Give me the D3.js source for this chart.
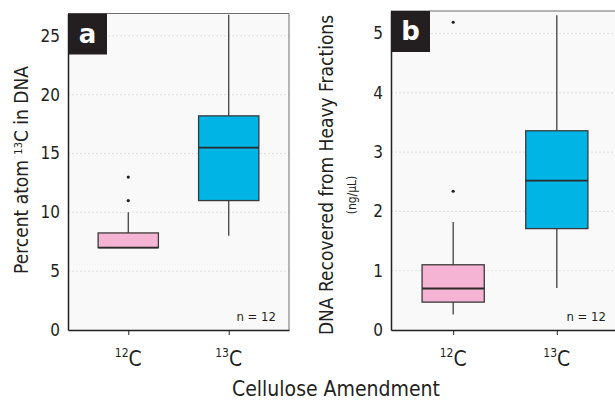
<!DOCTYPE html>
<html>
<head>
<meta charset="utf-8">
<script src="https://cdn.jsdelivr.net/npm/d3@7"></script>
<style>
  body { margin: 0; background: #fff; }
  text { font-family: "Liberation Sans Narrow", "DejaVu Sans Condensed", "Roboto", sans-serif; fill: #231f20; }
</style>
</head>
<body>
<div id="chart"></div>
<script>
// Datos
var categories = ["12C", "13C"];
var isotopeMass = ["12", "13"];

// panel a: Percent atom 13C in DNA
var aLow = [7.0, 8.0];
var aQ1 = [7.0, 11.0];
var aMedian = [7.0, 15.5];
var aQ3 = [8.25, 18.2];
var aHigh = [10.0, 26.8];
var aOutliers = [[11.0, 13.0], []];
var aTicks = [0, 5, 10, 15, 20, 25];

// panel b: DNA recovered from heavy fractions (ng/µL)
var bLow = [0.26, 0.71];
var bQ1 = [0.47, 1.71];
var bMedian = [0.70, 2.52];
var bQ3 = [1.10, 3.36];
var bHigh = [1.82, 5.31];
var bOutliers = [[2.34, 5.19], []];
var bTicks = [0, 1, 2, 3, 4, 5];

var svgWidth = 615;
var svgHeight = 400;
var colors = ["#f5b4d3", "#00b4e6"];

var svg = d3.select("#chart")
    .append("svg")
    .attr("width", svgWidth)
    .attr("height", svgHeight);

function drawPanel(opt) {
    var width = opt.right - opt.left;
    var height = opt.bottom - opt.top;

    var g = svg.append("g")
        .attr("transform", `translate(${opt.left}, ${opt.top})`);

    var x = d3.scalePoint()
        .domain(categories)
        .range([0, width])
        .padding(0.6);

    var y = d3.scaleLinear()
        .domain(opt.domain)
        .range([height, 0]);

    var boxW = x.step() * 0.6;

    // fondo
    g.append("rect")
        .attr("width", width)
        .attr("height", height)
        .attr("fill", "#f9f9f9");

    // grid
    g.selectAll(".grid")
        .data(opt.ticks.filter(d => d > 0))
        .enter()
        .append("line")
        .attr("x1", 0)
        .attr("x2", width)
        .attr("y1", d => y(d))
        .attr("y2", d => y(d))
        .attr("stroke", "#d8d8d8")
        .attr("stroke-width", 0.8)
        .attr("stroke-dasharray", "2,2");

    // borde superior y derecho
    g.append("path")
        .attr("d", `M0,0H${width}V${height}`)
        .attr("fill", "none")
        .attr("stroke", "#6d6d6d")
        .attr("stroke-width", 1);

    // bigotes
    g.selectAll(".whisker")
        .data(categories)
        .enter()
        .append("line")
        .attr("x1", d => x(d))
        .attr("x2", d => x(d))
        .attr("y1", (d, i) => y(opt.low[i]))
        .attr("y2", (d, i) => y(opt.high[i]))
        .attr("stroke", "#333")
        .attr("stroke-width", 1.2);

    // cajas
    g.selectAll(".box")
        .data(categories)
        .enter()
        .append("rect")
        .attr("x", d => x(d) - boxW / 2)
        .attr("y", (d, i) => y(opt.q3[i]))
        .attr("width", boxW)
        .attr("height", (d, i) => y(opt.q1[i]) - y(opt.q3[i]))
        .attr("fill", (d, i) => colors[i])
        .attr("stroke", "#3a3a3a")
        .attr("stroke-width", 1.3);

    // medianas
    g.selectAll(".median")
        .data(categories)
        .enter()
        .append("line")
        .attr("x1", d => x(d) - boxW / 2)
        .attr("x2", d => x(d) + boxW / 2)
        .attr("y1", (d, i) => y(opt.median[i]))
        .attr("y2", (d, i) => y(opt.median[i]))
        .attr("stroke", "#2a2a2a")
        .attr("stroke-width", 1.8);

    // outliers
    categories.forEach(function(c, i) {
        g.selectAll(null)
            .data(opt.outliers[i])
            .enter()
            .append("circle")
            .attr("cx", x(c))
            .attr("cy", d => y(d))
            .attr("r", 1.6)
            .attr("fill", "#231f20");
    });

    // eje Y
    var leftAxis = d3.axisLeft(y)
        .tickValues(opt.ticks)
        .tickSize(0)
        .tickPadding(8)
        .tickFormat(d3.format("d"));

    var yAxis = g.append("g").call(leftAxis);
    yAxis.select(".domain").attr("stroke", "#231f20").attr("stroke-width", 1.5);
    yAxis.selectAll("text")
        .style("font-size", "17px")
        .attr("fill", "#231f20")
        .style("font-family", null);

    // eje X
    var bottomAxis = d3.axisBottom(x)
        .tickSize(5)
        .tickSizeOuter(0)
        .tickFormat("");

    var xAxis = g.append("g")
        .attr("transform", `translate(0, ${height})`)
        .call(bottomAxis);
    xAxis.select(".domain").attr("stroke", "#231f20").attr("stroke-width", 1.5);
    xAxis.selectAll("line").attr("stroke", "#231f20").attr("stroke-width", 1);

    // etiquetas 12C / 13C
    var cat = g.selectAll(".cat")
        .data(categories)
        .enter()
        .append("text")
        .attr("x", d => x(d))
        .attr("y", height + 36)
        .attr("text-anchor", "middle");
    cat.append("tspan")
        .attr("dy", -9)
        .style("font-size", "12px")
        .text((d, i) => isotopeMass[i]);
    cat.append("tspan")
        .attr("dy", 9)
        .style("font-size", "21px")
        .text("C");

    // n = 12
    g.append("text")
        .attr("x", width - 13)
        .attr("y", height - 9)
        .attr("text-anchor", "end")
        .style("font-size", "13px")
        .text("n = 12");

    // etiqueta del panel
    g.append("rect")
        .attr("width", 39)
        .attr("height", 41)
        .attr("fill", "#231f20");
    g.append("text")
        .attr("x", 19.5)
        .attr("y", 29)
        .attr("text-anchor", "middle")
        .style("font-size", "26px")
        .style("font-weight", "bold")
        .style("font-family", "'DejaVu Sans', sans-serif")
        .style("fill", "#fff")
        .text(opt.letter);

    return g;
}

drawPanel({
    left: 68, right: 289, top: 13.5, bottom: 330,
    domain: [0, 26.9], ticks: aTicks,
    low: aLow, q1: aQ1, median: aMedian, q3: aQ3, high: aHigh, outliers: aOutliers,
    letter: "a"
});

drawPanel({
    left: 391, right: 619, top: 11, bottom: 330,
    domain: [0, 5.38], ticks: bTicks,
    low: bLow, q1: bQ1, median: bMedian, q3: bQ3, high: bHigh, outliers: bOutliers,
    letter: "b"
});

// títulos de ejes
var yTitleA = svg.append("text")
    .attr("transform", "translate(28, 170) rotate(-90)")
    .attr("text-anchor", "middle")
    .style("font-size", "19px");
yTitleA.append("tspan").text("Percent atom ");
yTitleA.append("tspan").attr("dy", -6).style("font-size", "11px").text("13");
yTitleA.append("tspan").attr("dy", 6).text("C in DNA");

svg.append("text")
    .attr("transform", "translate(333, 175) rotate(-90)")
    .attr("text-anchor", "middle")
    .style("font-size", "19px")
    .text("DNA Recovered from Heavy Fractions");

svg.append("text")
    .attr("transform", "translate(356, 195) rotate(-90)")
    .attr("text-anchor", "middle")
    .style("font-size", "12px")
    .text("(ng/µL)");

svg.append("text")
    .attr("x", 336)
    .attr("y", 396)
    .attr("text-anchor", "middle")
    .style("font-size", "21px")
    .text("Cellulose Amendment");
</script>
</body>
</html>
